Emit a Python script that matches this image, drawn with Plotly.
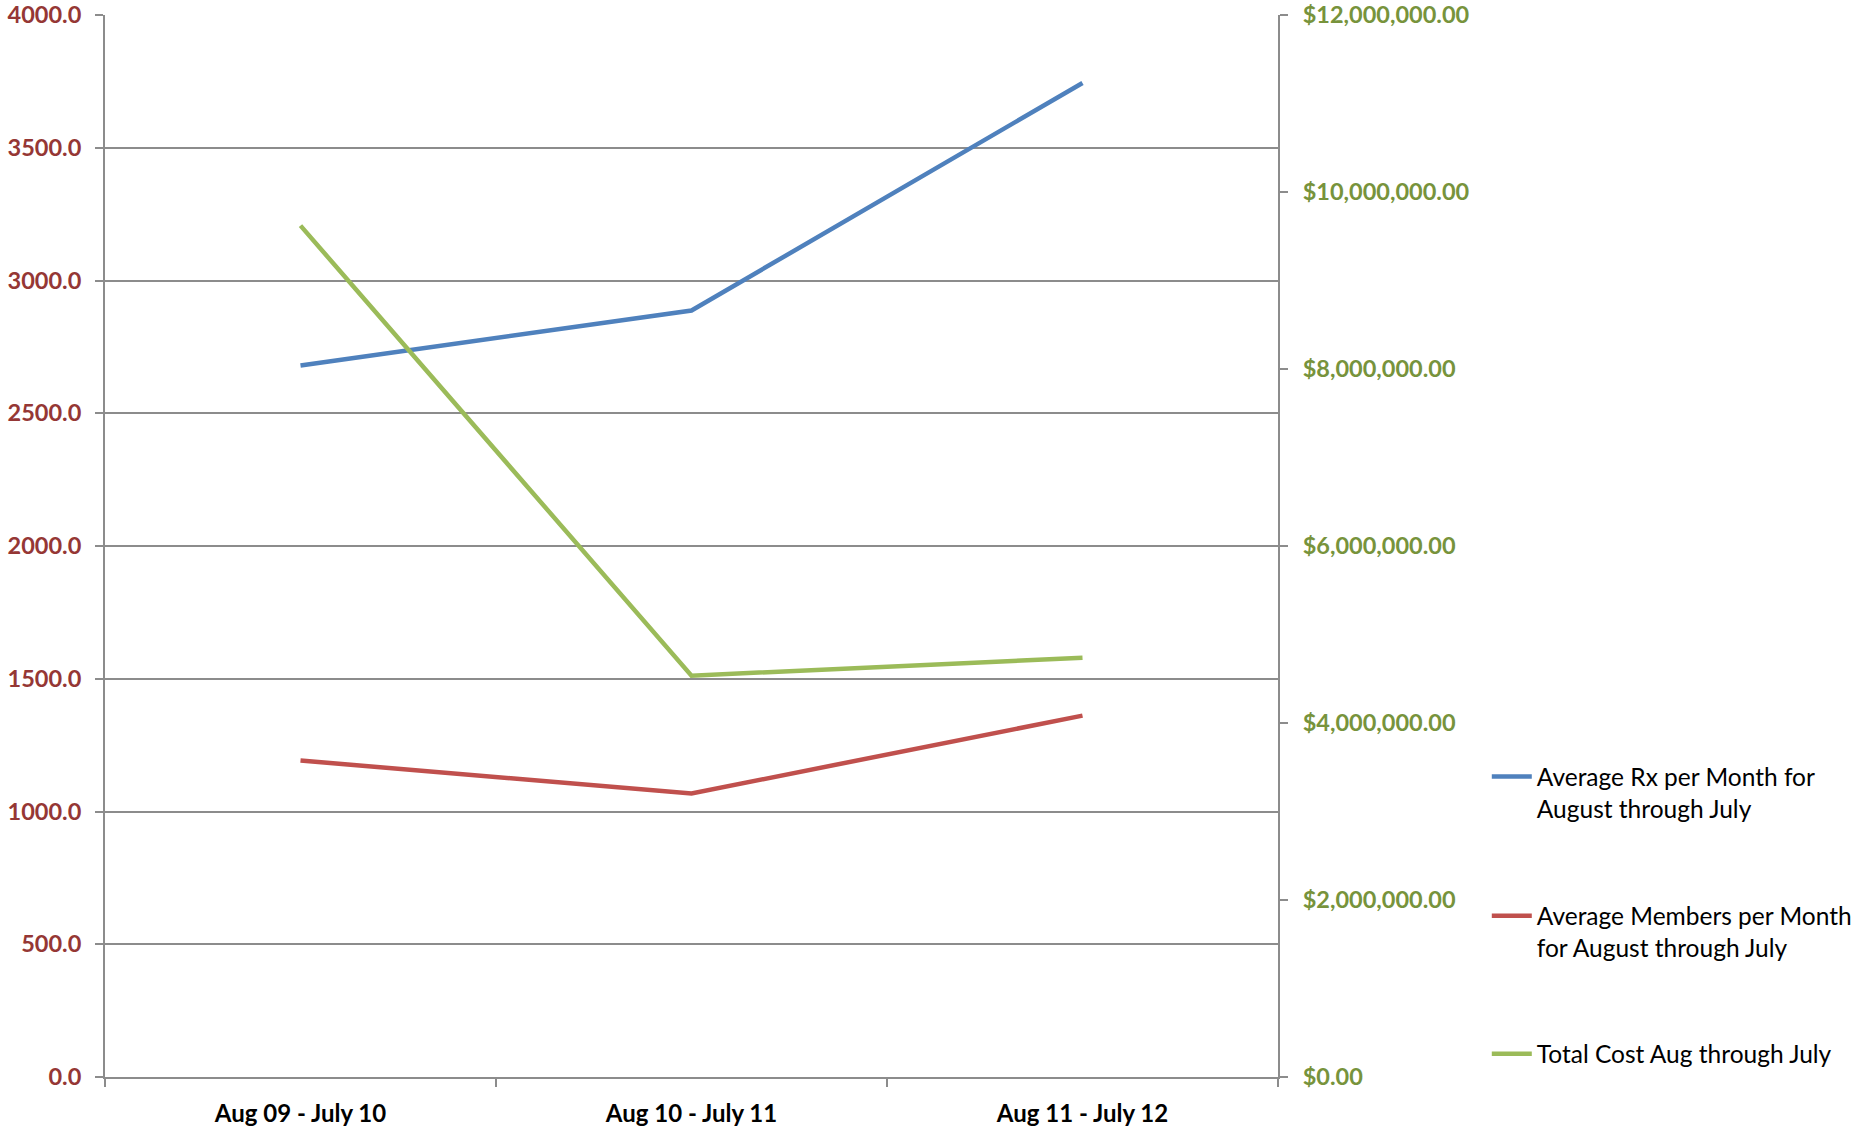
import plotly.graph_objects as go

categories = ["Aug 09 - July 10", "Aug 10 - July 11", "Aug 11 - July 12"]
avg_rx = [2680, 2887, 3744]
avg_members = [1192, 1068, 1361]
total_cost = [9620000, 4535000, 4737000]

names = [
    "Average Rx per Month for<br>August through July",
    "Average Members per Month<br>for August through July",
    "Total Cost Aug through July",
]
colors = ["#4F81BD", "#C0504D", "#9BBB59"]

FONT = "Lato"
GRID = "#8C8C8C"

fig = go.Figure()
fig.add_trace(go.Scatter(x=categories, y=avg_rx, mode="lines", name=names[0],
                         line=dict(color=colors[0], width=4.5), legend="legend"))
fig.add_trace(go.Scatter(x=categories, y=avg_members, mode="lines", name=names[1],
                         line=dict(color=colors[1], width=4.5), legend="legend2"))
fig.add_trace(go.Scatter(x=categories, y=total_cost, mode="lines", name=names[2],
                         line=dict(color=colors[2], width=4.5), yaxis="y2", legend="legend3"))

leg_common = dict(xanchor="left", yanchor="top", valign="top",
                  font=dict(family=FONT, size=24.5, color="black"),
                  bgcolor="rgba(0,0,0,0)", itemwidth=40)
fig.update_layout(
    width=1859, height=1126,
    margin=dict(l=105, r=581, t=15, b=49, autoexpand=False),
    plot_bgcolor="white", paper_bgcolor="white",
    xaxis=dict(type="category", showgrid=False, showline=True, linecolor=GRID, linewidth=2,
               ticks="outside", tickson="boundaries", ticklen=8, tickcolor=GRID, tickwidth=1.5,
               tickfont=dict(family=FONT, size=24, color="black", weight="bold"),
               ticklabelstandoff=14, range=[-0.5, 2.5], automargin=False),
    yaxis=dict(range=[0, 4000], dtick=500, tickformat=".1f", showgrid=True, gridcolor=GRID,
               gridwidth=1.5, showline=True, linecolor=GRID, linewidth=2, ticks="outside",
               ticklen=8, tickcolor=GRID, tickwidth=1.5, zeroline=False,
               tickfont=dict(family=FONT, size=23.5, color="#953735", weight="bold"),
               ticklabelstandoff=9, automargin=False, ticklabeloverflow="allow"),
    yaxis2=dict(range=[0, 12000000], dtick=2000000, tickformat="$,.2f", overlaying="y",
                side="right", showgrid=False, showline=True, linecolor=GRID, linewidth=2,
                ticks="outside", ticklen=8, tickcolor=GRID, tickwidth=1.5, zeroline=False,
                tickfont=dict(family=FONT, size=23.5, color="#77933C", weight="bold"),
                ticklabelstandoff=10, automargin=False, ticklabeloverflow="allow"),
    legend=dict(x=1.178, y=0.304, **leg_common),
    legend2=dict(x=1.178, y=0.173, **leg_common),
    legend3=dict(x=1.178, y=0.043, **leg_common),
    showlegend=True,
)

fig.write_html("out.html", config={"displayModeBar": False},
               post_script="document.body.style.margin='0';")
